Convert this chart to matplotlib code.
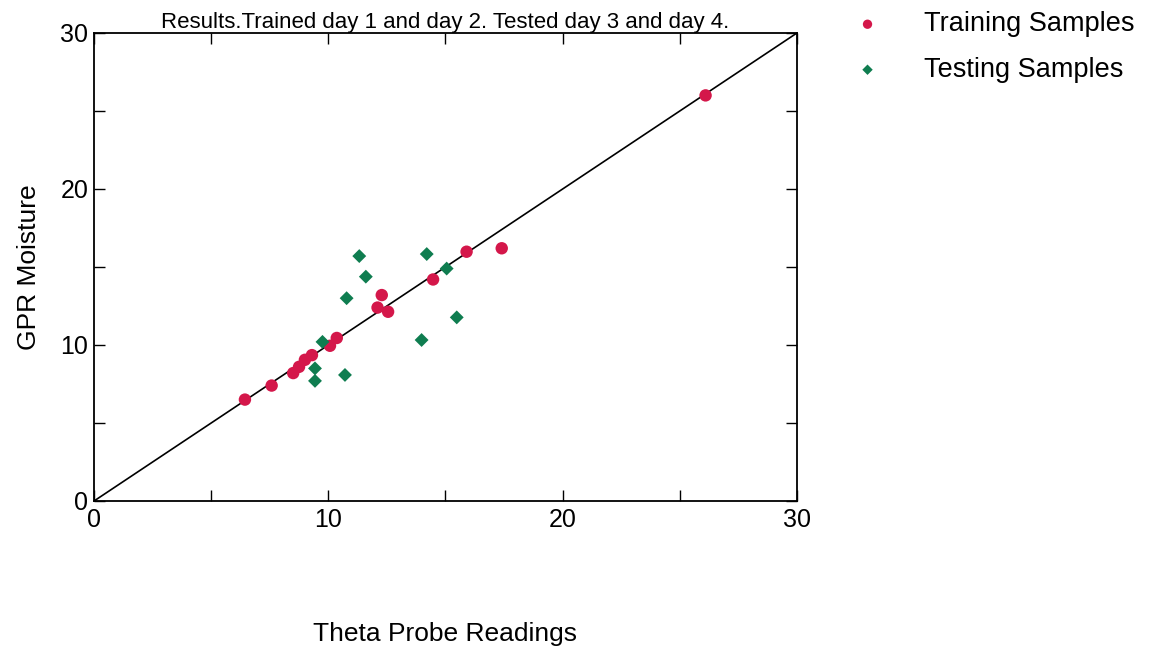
import matplotlib
matplotlib.use("Agg")
import matplotlib.pyplot as plt
from matplotlib.ticker import MultipleLocator

plt.rcParams['font.family'] = ['Liberation Sans', 'DejaVu Sans']

# Theta probe readings (x) vs GPR-estimated moisture (y)
train_x = [6.44, 7.58, 8.5, 8.75, 9.0, 9.3, 10.07, 10.36, 12.28, 12.1, 12.55, 14.47, 15.9, 17.4, 26.1]
train_y = [6.5, 7.4, 8.2, 8.6, 9.05, 9.35, 9.95, 10.45, 13.2, 12.4, 12.13, 14.2, 15.98, 16.2, 26.0]

test_x = [11.32, 14.2, 11.6, 15.05, 10.78, 15.48, 13.98, 9.75, 9.43, 9.43, 10.71]
test_y = [15.7, 15.83, 14.38, 14.9, 13.0, 11.77, 10.32, 10.2, 8.5, 7.7, 8.08]

limits = [0, 30]

fig = plt.figure(figsize=(11.51, 6.52), dpi=100)
ax = fig.add_axes([0.0817, 0.2316, 0.6107, 0.7178])

ax.plot(limits, limits, color='black', lw=1.2, zorder=1)
ax.scatter(train_x, train_y, s=80, marker='o', color='#d4174a', edgecolors='none',
           label='Training Samples', zorder=3)
ax.scatter(test_x, test_y, s=50, marker='D', color='#0f7d50', edgecolors='none',
           label='Testing Samples', zorder=3)

ax.set_xlim(limits)
ax.set_ylim(limits)
ax.xaxis.set_major_locator(MultipleLocator(10))
ax.yaxis.set_major_locator(MultipleLocator(10))
ax.xaxis.set_minor_locator(MultipleLocator(5))
ax.yaxis.set_minor_locator(MultipleLocator(5))
ax.tick_params(which='both', direction='in', length=8, width=1, top=True, right=True,
               labelsize=18)
ax.tick_params(axis='x', pad=5)
ax.tick_params(axis='y', pad=4)
for sp in ax.spines.values():
    sp.set_linewidth(1.3)

ax.set_title('Results.Trained day 1 and day 2. Tested day 3 and day 4.', fontsize=16, pad=1)
ax.set_xlabel('Theta Probe Readings', fontsize=19, labelpad=65)
ax.set_ylabel('GPR Moisture', fontsize=19, labelpad=14)

fig.legend(loc='upper left', bbox_to_anchor=(0.709, 1.02), frameon=False, fontsize=19.5,
           handletextpad=1.1, labelspacing=0.72, scatterpoints=1, markerscale=0.75)

fig.savefig('out.png', dpi=100)
